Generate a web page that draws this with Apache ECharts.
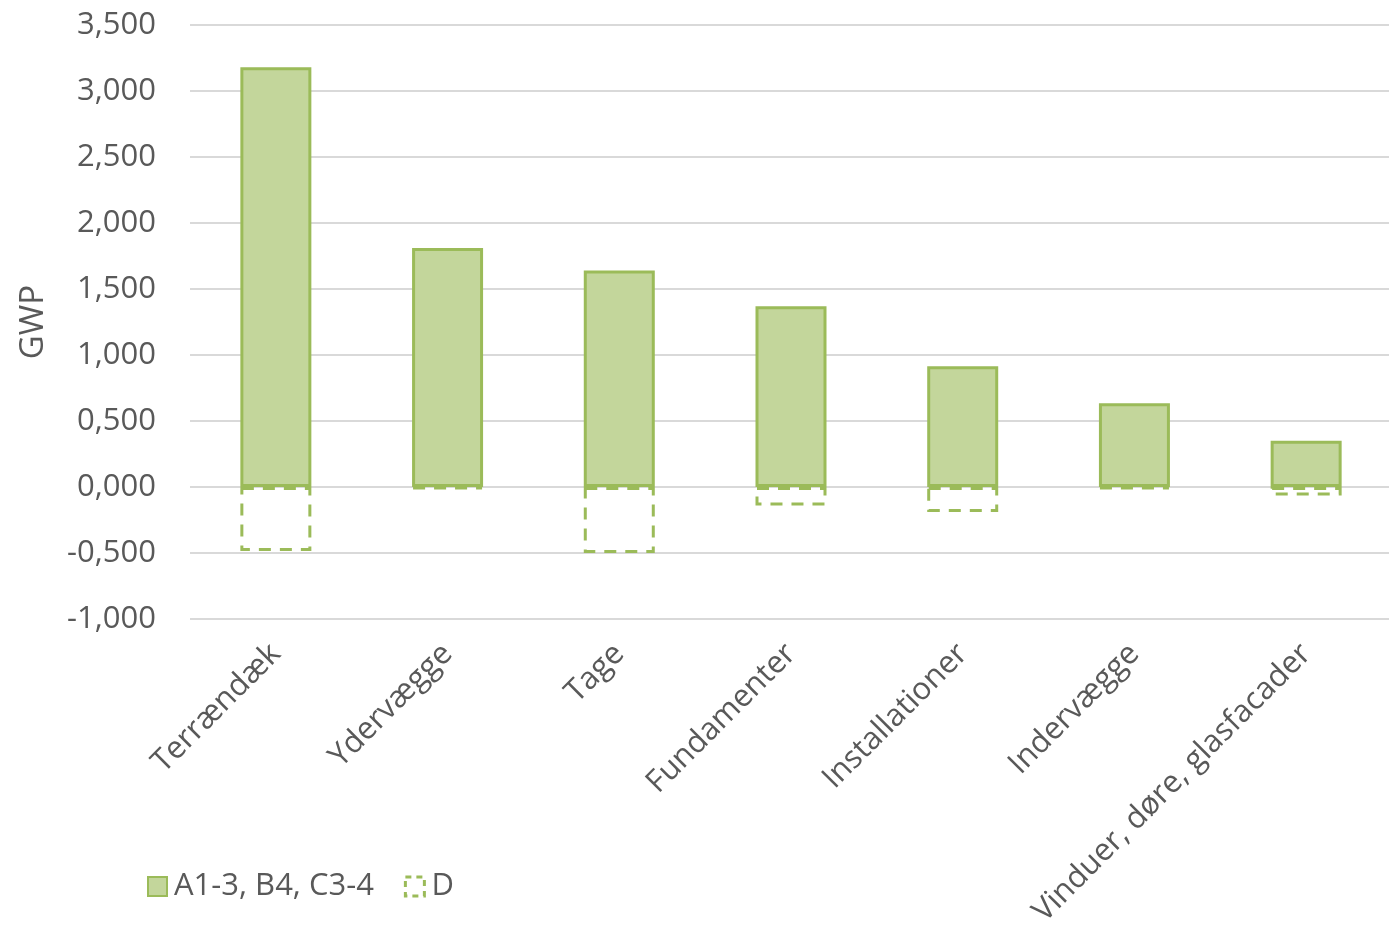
<!DOCTYPE html>
<html>
<head>
<meta charset="utf-8">
<script src="https://cdn.jsdelivr.net/npm/echarts@6/dist/echarts.min.js"></script>
<style>
  html, body { margin: 0; padding: 0; background: #fff; }
  #chart { width: 1389px; height: 928px; }
</style>
</head>
<body>
<div id="chart"></div>
<script>
// Building parts
const categories = ['Terrændæk', 'Ydervægge', 'Tage', 'Fundamenter', 'Installationer', 'Indervægge', 'Vinduer, døre, glasfacader'];
// GWP, modules A1-3, B4, C3-4
const valuesA = [3.18, 1.81, 1.64, 1.37, 0.915, 0.635, 0.35];
// GWP, module D
const valuesD = [-0.485, -0.015, -0.5, -0.14, -0.19, -0.015, -0.065];
// Series names
const seriesNames = ['A1-3, B4, C3-4', 'D'];

const textColor = '#595959';
const fontFamily = '"Open Sans", "Noto Sans", sans-serif';
const fmt = v => (v < 0 ? '-' : '') + Math.abs(v).toFixed(3).replace('.', ',');
const dash = [12, 9];

const chart = echarts.init(document.getElementById('chart'), null, { renderer: 'canvas' });
chart.setOption({
  backgroundColor: '#ffffff',
  animation: false,
  textStyle: { fontFamily: fontFamily, color: textColor },
  grid: { left: 190, top: 25, width: 1202, height: 594, containLabel: false, outerBoundsMode: 'none' },
  legend: {
    left: 142, top: 866,
    icon: 'rect',
    itemWidth: 19, itemHeight: 19, itemGap: 30,
    textStyle: { fontSize: 31, color: textColor, fontFamily: fontFamily, padding: [0, 0, 0, 2] },
    data: [
      { name: seriesNames[0] },
      { name: seriesNames[1], itemStyle: { borderType: [6, 5], borderWidth: 3 } }
    ]
  },
  xAxis: {
    type: 'category',
    data: categories,
    axisLine: { show: false },
    axisTick: { show: false },
    axisLabel: {
      rotate: 45, margin: 30, interval: 0,
      fontSize: 31, color: textColor, fontFamily: fontFamily
    }
  },
  yAxis: {
    type: 'value',
    min: -1, max: 3.5, interval: 0.5,
    name: 'GWP',
    nameLocation: 'middle',
    nameGap: 140,
    nameTextStyle: { fontSize: 33, color: textColor, fontFamily: fontFamily },
    axisLine: { show: false },
    axisTick: { show: false },
    axisLabel: { formatter: fmt, margin: 34, fontSize: 31, color: textColor, fontFamily: fontFamily },
    splitLine: { lineStyle: { color: '#d9d9d9', width: 2 } }
  },
  series: [
    {
      name: seriesNames[0],
      type: 'bar',
      data: valuesA,
      barWidth: 71,
      barGap: '-100%',
      itemStyle: { color: '#c3d69b', borderColor: '#9bbb59', borderWidth: 3 }
    },
    {
      name: seriesNames[1],
      type: 'bar',
      data: valuesD,
      barWidth: 71,
      barGap: '-100%',
      itemStyle: {
        color: 'rgba(255,255,255,0)',
        borderColor: '#9bbb59', borderWidth: 3,
        borderType: dash
      }
    }
  ]
});
</script>
</body>
</html>
